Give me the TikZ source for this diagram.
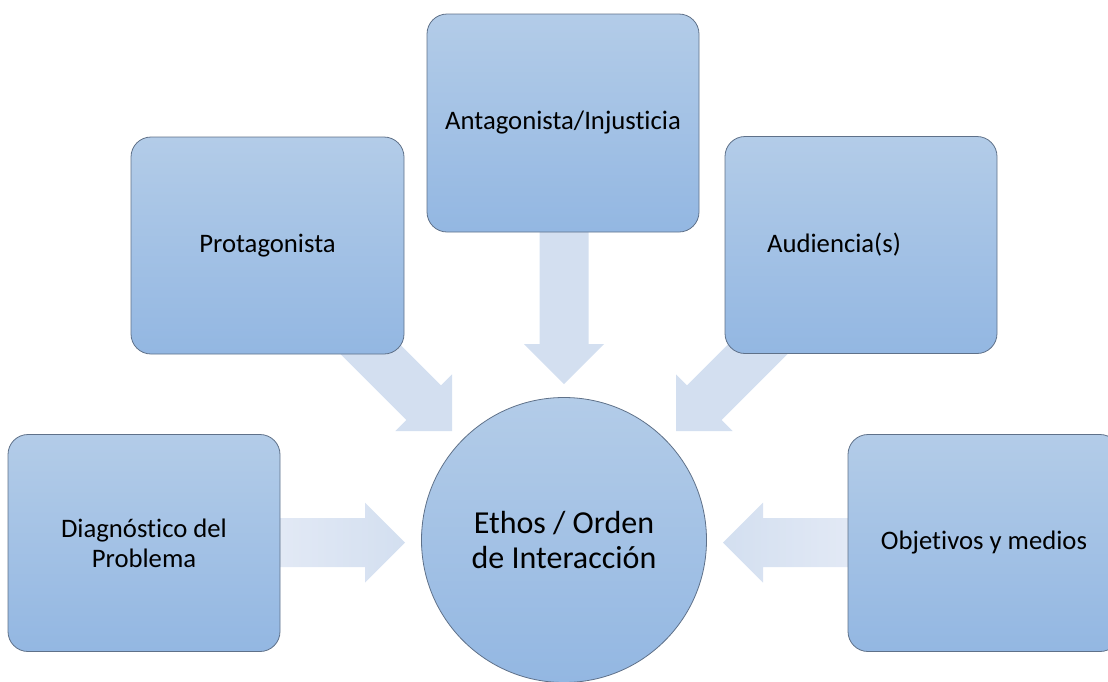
\documentclass[tikz,border=0pt]{standalone}
\usepackage{fontspec}
\setmainfont[Ligatures=NoCommon]{Carlito}
\definecolor{boxtop}{HTML}{B3CCE8}
\definecolor{boxbot}{HTML}{93B7E2}
\definecolor{boxline}{HTML}{5F7189}
\definecolor{flow}{HTML}{D3DFF0}
\definecolor{flowlight}{HTML}{E2E9F5}

\begin{document}
\begin{tikzpicture}[x=1pt,y=-1pt,
  card/.style={draw=boxline, line width=0.8pt, rounded corners=20pt,
    top color=boxtop, bottom color=boxbot, align=center,
    minimum width=272pt, minimum height=217pt, inner sep=0pt,
    font=\fontsize{26.7}{30}\selectfont},
  cardtext/.style={align=center, inner sep=0pt, font=\fontsize{26.7}{30}\selectfont},
  hub/.style={circle, draw=boxline, line width=0.8pt,
    top color=boxtop, bottom color=boxbot, align=center,
    minimum size=285pt, inner sep=0pt, font=\fontsize{32}{35}\selectfont},
  flowarrow/.style={fill=flow, draw=none},
]
\useasboundingbox (0,0) rectangle (1108,681);

% block arrows (drawn first, so they pass under the boxes)
\path[left color=flowlight, right color=flow]
  (280,518) -- (365,518) -- (365,502.5) -- (405,542.5) -- (365,582.5)
  -- (365,567) -- (280,567) -- cycle;
\path[left color=flow, right color=flowlight]
  (848,518) -- (763,518) -- (763,502.5) -- (723,542.5) -- (763,582.5)
  -- (763,567) -- (848,567) -- cycle;
\path[flowarrow]
  (539.5,220) -- (588.5,220) -- (588.5,344) -- (604,344) -- (564,384)
  -- (524,344) -- (539.5,344) -- cycle;
\path[flowarrow]
  (367.3,311.7) -- (441.0,385.4) -- (452,374.4) -- (452,431)
  -- (395.4,431) -- (406.4,420.0) -- (332.7,346.3) -- cycle;
\path[flowarrow]
  (760.7,311.7) -- (687.0,385.4) -- (676,374.4) -- (676,431)
  -- (732.6,431) -- (721.6,420.0) -- (795.3,346.3) -- cycle;

% boxes around the centre
\node[card] (diag) at (144,543) {Diagnóstico del\\Problema};
\node[card, minimum width=273pt] (prot) at (267.5,245.5) {Protagonista};
\node[card, minimum height=218pt] (anta) at (563,123) {Antagonista/Injusticia};
\node[card] (aud) at (861,245) {};
\node[cardtext] (audtext) at (834,245) {Audiencia(s)};
\node[card] (obj) at (984,543) {Objetivos y medios};

% centre
\node[hub] (hub) at (564,540) {Ethos / Orden\\de Interacción};
\end{tikzpicture}
\end{document}
